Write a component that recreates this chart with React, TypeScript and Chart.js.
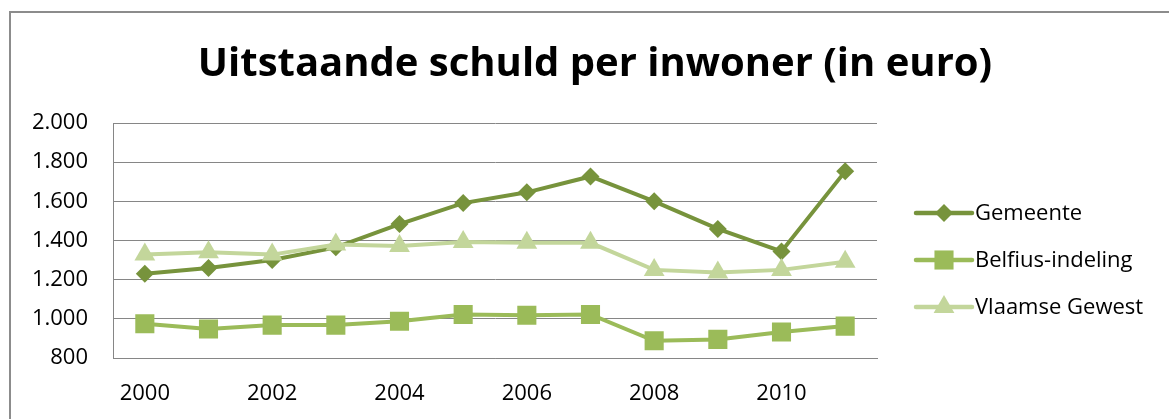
import React, { useEffect, useRef } from "react";
import { Chart, registerables } from "chart.js";

Chart.register(...registerables);

const years = ["2000", "2001", "2002", "2003", "2004", "2005", "2006", "2007", "2008", "2009", "2010", "2011"];
const gemeente = [1230, 1260, 1300, 1365, 1484, 1591, 1646, 1727, 1600, 1459, 1344, 1753];
const belfius = [975, 948, 968, 968, 988, 1022, 1018, 1022, 888, 895, 933, 963];
const vlaams = [1328, 1340, 1328, 1380, 1372, 1392, 1388, 1388, 1250, 1236, 1250, 1292];
const seriesNames = ["Gemeente", "Belfius-indeling", "Vlaamse Gewest"];
const seriesColors = ["#77933C", "#9BBB59", "#C3D69B"];
const pointStyles = ["rectRot", "rect", "triangle"];
const pointRadii = [9, 13.5, 12];
const titleText = "Uitstaande schuld per inwoner (in euro)";

const FONT = "'Open Sans', 'DejaVu Sans', sans-serif";

function fmt(v: number): string {
  return String(Math.round(v)).replace(/\B(?=(\d{3})+(?!\d))/g, ".");
}

function drawMarker(ctx: CanvasRenderingContext2D, style: string, x: number, y: number, r: number) {
  ctx.beginPath();
  if (style === "rectRot") {
    ctx.moveTo(x - r, y);
    ctx.lineTo(x, y - r);
    ctx.lineTo(x + r, y);
    ctx.lineTo(x, y + r);
  } else if (style === "rect") {
    const s = r * Math.SQRT1_2;
    ctx.rect(x - s, y - s, 2 * s, 2 * s);
  } else {
    const a = (2 * Math.PI) / 3;
    ctx.moveTo(x, y - r);
    ctx.lineTo(x + Math.sin(a) * r, y - Math.cos(a) * r);
    ctx.lineTo(x + Math.sin(2 * a) * r, y - Math.cos(2 * a) * r);
  }
  ctx.closePath();
  ctx.fill();
}

const decorPlugin = {
  id: "decor",
  afterDraw(chart: any) {
    const ctx = chart.ctx as CanvasRenderingContext2D;
    ctx.save();
    // title
    ctx.fillStyle = "#000";
    ctx.font = `bold 40px ${FONT}`;
    ctx.textAlign = "center";
    ctx.textBaseline = "middle";
    ctx.fillText(titleText, 584, 52);
    // legend
    const x0 = 905;
    const x1 = 961;
    const ys = [200, 247, 294];
    chart.data.datasets.forEach((ds: any, i: number) => {
      const y = ys[i];
      ctx.strokeStyle = ds.borderColor;
      ctx.fillStyle = ds.backgroundColor;
      ctx.lineWidth = 4.5;
      ctx.lineCap = "round";
      ctx.beginPath();
      ctx.moveTo(x0, y);
      ctx.lineTo(x1, y);
      ctx.stroke();
      drawMarker(ctx, ds.pointStyle, (x0 + x1) / 2, y, ds.pointRadius);
      ctx.fillStyle = "#000";
      ctx.font = `22px ${FONT}`;
      ctx.textBaseline = "middle";
      ctx.textAlign = "left";
      ctx.fillText(ds.label, x1 + 3, y + 1);
    });
    ctx.restore();
  },
};

export default function App() {
  const ref = useRef<HTMLCanvasElement | null>(null);

  useEffect(() => {
    if (!ref.current) return;
    const datasets = [gemeente, belfius, vlaams].map((vals, i) => ({
      label: seriesNames[i],
      data: vals,
      borderColor: seriesColors[i],
      backgroundColor: seriesColors[i],
      borderWidth: 4,
      pointStyle: pointStyles[i],
      pointRadius: pointRadii[i],
      pointHoverRadius: pointRadii[i],
      pointBorderWidth: 0,
      pointBackgroundColor: seriesColors[i],
      tension: 0,
      order: 2 - i,
    }));
    const chart = new Chart(ref.current, {
      type: "line",
      data: { labels: years, datasets },
      plugins: [decorPlugin],
      options: {
        responsive: false,
        animation: false,
        layout: { padding: { left: 0, right: 292, top: 110, bottom: 0 } },
        plugins: {
          legend: { display: false },
          tooltip: { enabled: false },
          title: { display: false },
        },
        scales: {
          x: {
            type: "category",
            offset: true,
            grid: { display: false, drawTicks: false },
            border: { display: true, color: "#868686", width: 1 },
            ticks: {
              autoSkip: false,
              maxRotation: 0,
              padding: 23,
              color: "#000",
              font: { family: FONT, size: 22 },
              callback: (_v: any, i: number) => (i % 2 === 0 ? years[i] : ""),
            },
            afterFit: (s: any) => {
              s.height = 61;
            },
          },
          y: {
            min: 800,
            max: 2000,
            ticks: {
              stepSize: 200,
              padding: 25,
              color: "#000",
              font: { family: FONT, size: 22 },
              callback: (v: any) => fmt(Number(v)),
            },
            grid: { color: "#868686", lineWidth: 1, drawTicks: false },
            border: { display: true, color: "#868686", width: 1 },
            afterFit: (s: any) => {
              s.width = 102;
            },
          },
        },
      },
    });
    return () => chart.destroy();
  }, []);

  return (
    <div
      style={{
        position: "absolute",
        left: 9,
        top: 11,
        width: 1160,
        height: 408,
        borderLeft: "2px solid #8c8c8c",
        borderTop: "2px solid #8c8c8c",
        boxSizing: "border-box",
        background: "#fff",
        overflow: "hidden",
      }}
    >
      <canvas ref={ref} width={1158} height={406} style={{ display: "block" }} />
    </div>
  );
}
